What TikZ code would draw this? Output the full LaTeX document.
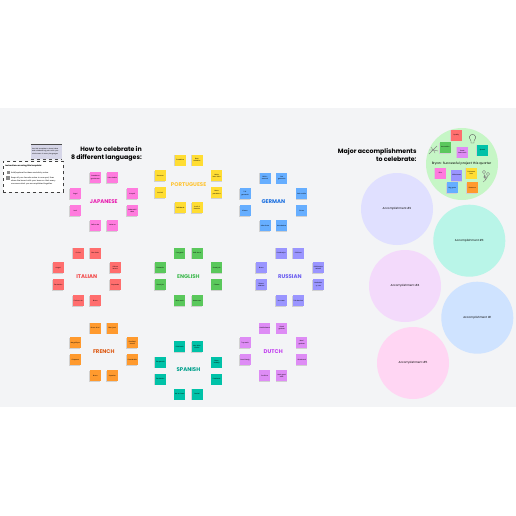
\documentclass[tikz,border=0pt]{standalone}
\usepackage{fontspec}
\setmainfont{Poppins}
\usetikzlibrary{shadows}
\definecolor{band}{HTML}{F3F4F6}
\definecolor{jpnote}{HTML}{FF7BDE}
\definecolor{jptext}{HTML}{E81EB0}
\definecolor{ptnote}{HTML}{FFDD33}
\definecolor{pttext}{HTML}{FFC433}
\definecolor{denote}{HTML}{66AEFF}
\definecolor{detext}{HTML}{1A6FE0}
\definecolor{itnote}{HTML}{FF6E6E}
\definecolor{ittext}{HTML}{F24848}
\definecolor{ennote}{HTML}{5AC85C}
\definecolor{entext}{HTML}{3FB950}
\definecolor{runote}{HTML}{9A95FF}
\definecolor{rutext}{HTML}{6A5CF0}
\definecolor{frnote}{HTML}{FF9A2E}
\definecolor{frtext}{HTML}{DD5A14}
\definecolor{esnote}{HTML}{00C2A8}
\definecolor{estext}{HTML}{00A08C}
\definecolor{nlnote}{HTML}{DE8CF5}
\definecolor{nltext}{HTML}{C23CF0}
\definecolor{sheet}{HTML}{D6D6E8}
\definecolor{lavender}{HTML}{E0E0FF}
\definecolor{mintfill}{HTML}{B9F5E8}
\definecolor{lilac}{HTML}{F3DAFB}
\definecolor{skyfill}{HTML}{CFE3FF}
\definecolor{pinkfill}{HTML}{FFD6F3}
\definecolor{greenfill}{HTML}{C6F6C6}
\begin{document}
\begin{tikzpicture}[x=1pt, y=-1pt,
    note/.style={rectangle,minimum width=11pt,minimum height=11pt,inner sep=0pt,text width=10pt,align=center,
        font=\fontsize{1.6}{2.2}\selectfont,general shadow={fill=black!18,shadow xshift=-0.7pt,shadow yshift=-0.7pt}},
    langname/.style={font=\fontsize{5.4}{6}\selectfont\bfseries},
    headline/.style={font=\fontsize{6.25}{8.6}\selectfont\bfseries,align=right,anchor=north east,inner sep=0pt},
    bubble/.style={circle,minimum size=72pt,inner sep=0pt,font=\fontsize{2.8}{4}\selectfont}]
    \fill[white] (0,0) rectangle (516,516);
    \useasboundingbox (0,0) rectangle (516,516);
    \fill[band] (0,108) rectangle (516,407);

    % notes on the left
    \node[rectangle,fill=sheet,minimum width=31pt,minimum height=15pt,inner sep=0pt,text width=29pt,align=left,font=\fontsize{1.6}{2.3}\selectfont] (sheetbox) at (46.5,151.5) {Use this template to share ideas and celebrate big wins with your whole team in many languages};
    \draw[black!70,thin] (sheetbox.north west)--(sheetbox.north east);
    \draw[black!70,thin,dashed] (sheetbox.south west)--(sheetbox.south east);
    \node[rectangle,draw=black!75,dashed,semithick,fill=white,minimum width=60pt,minimum height=31pt] (tipbox) at (33.3,176.8) {};
    \node[anchor=west,inner sep=0pt,font=\fontsize{2}{2.6}\selectfont\bfseries] (tiptitle) at (5,166) {Instructions on using this template:};
    \node[rectangle,fill=black!45,minimum size=3pt,inner sep=0pt] (tipicon1) at (8,172.5) {};
    \node[anchor=west,inner sep=0pt,font=\fontsize{1.9}{2.6}\selectfont] (tipline1) at (11,172.5) {Add/replace the ideas and sticky notes};
    \node[rectangle,fill=black!45,minimum size=3.5pt,inner sep=0pt] (tipicon2) at (8,178) {};
    \node[anchor=north west,inner sep=0pt,text width=48pt,align=left,font=\fontsize{1.9}{3.2}\selectfont] (tipline2) at (11,176.5) {Keep all your favorite notes in one spot, then share the board with your team so that everyone sees what you accomplished together};

    \node[headline] (howto) at (142,146) {How to celebrate in\\8 different languages:};
    \node[headline] (major) at (416.7,148) {Major accomplishments\\to celebrate:};

    % japanese
    \node[langname,text=jptext] (japanese) at (103.8,202) {JAPANESE};
    \node[note,fill=jpnote] (j1) at (95.3,177.7) {Omedetou gozaimasu};
    \node[note,fill=jpnote] (j2) at (112.3,177.7) {Yoku dekita};
    \node[note,fill=jpnote] (j3) at (132.3,193.7) {Kanpai};
    \node[note,fill=jpnote] (j4) at (132.3,210.7) {Subarashii desu};
    \node[note,fill=jpnote] (j5) at (112.3,225.3) {Yatta ne};
    \node[note,fill=jpnote] (j6) at (95.3,225.3) {Saikou da};
    \node[note,fill=jpnote] (j7) at (75.3,210.7) {Iwai};
    \node[note,fill=jpnote] (j8) at (75.3,193.7) {Sugoi};

    % portuguese
    \node[langname,text=pttext] (portuguese) at (188.6,184.3) {PORTUGUESE};
    \node[note,fill=ptnote] (p1) at (180.3,160) {Parabéns};
    \node[note,fill=ptnote] (p2) at (197,160) {Bom trabalho};
    \node[note,fill=ptnote] (p3) at (216.7,175.7) {Muito bem feito};
    \node[note,fill=ptnote] (p4) at (216.7,192.7) {Meus parabéns};
    \node[note,fill=ptnote] (p5) at (197,207.7) {Você é demais};
    \node[note,fill=ptnote] (p6) at (180.3,207.7) {Felicidade};
    \node[note,fill=ptnote] (p7) at (160.3,192.7) {Incrível};
    \node[note,fill=ptnote] (p8) at (160.3,175.7) {Sucesso};

    % german
    \node[langname,text=detext] (german) at (273.4,201.5) {GERMAN};
    \node[note,fill=denote] (g1) at (265,178) {Glück\-wunsch};
    \node[note,fill=denote] (g2) at (281.7,178) {Gut gemacht};
    \node[note,fill=denote] (g3) at (301.7,193.7) {Sehr schön};
    \node[note,fill=denote] (g4) at (301.7,210.7) {Prima};
    \node[note,fill=denote] (g5) at (281.7,225.7) {Wunderbar};
    \node[note,fill=denote] (g6) at (265,225.7) {Alles Gute};
    \node[note,fill=denote] (g7) at (245,210.7) {Klasse};
    \node[note,fill=denote] (g8) at (245,193.7) {Toll gemacht};

    % italian
    \node[langname,text=ittext] (italian) at (86.8,276.8) {ITALIAN};
    \node[note,fill=itnote] (i1) at (78.3,253) {Evviva};
    \node[note,fill=itnote] (i2) at (95.3,253) {Ben fatto};
    \node[note,fill=itnote] (i3) at (115.3,267.7) {Ottimo lavoro};
    \node[note,fill=itnote] (i4) at (115.3,284.7) {Stupendo};
    \node[note,fill=itnote] (i5) at (95.3,300.7) {Bravo};
    \node[note,fill=itnote] (i6) at (78.3,300.7) {Evviva a te};
    \node[note,fill=itnote] (i7) at (58.3,284.7) {Fantastico};
    \node[note,fill=itnote] (i8) at (58.3,267.7) {Auguri};

    % english
    \node[langname,text=entext] (english) at (188.4,276.8) {ENGLISH};
    \node[note,fill=ennote] (e1) at (179.7,253) {Congrats};
    \node[note,fill=ennote] (e2) at (197,253) {Well done};
    \node[note,fill=ennote] (e3) at (216.7,267.7) {Great job};
    \node[note,fill=ennote] (e4) at (216.7,284.7) {Cheers};
    \node[note,fill=ennote] (e5) at (197,300.7) {Awesome};
    \node[note,fill=ennote] (e6) at (179.7,300.7) {Nice work};
    \node[note,fill=ennote] (e7) at (160.3,284.7) {Good job};
    \node[note,fill=ennote] (e8) at (160.3,267.7) {Fantastic};

    % russian
    \node[langname,text=rutext] (russian) at (289.8,276.8) {RUSSIAN};
    \node[note,fill=runote] (r1) at (281.3,253) {Pozdravlyu};
    \node[note,fill=runote] (r2) at (298.3,253) {Otlichno};
    \node[note,fill=runote] (r3) at (318.3,267.7) {Otlichnaya rabota};
    \node[note,fill=runote] (r4) at (318.3,284.7) {Molodets vy vse};
    \node[note,fill=runote] (r5) at (298.3,300.7) {Tak derzhat};
    \node[note,fill=runote] (r6) at (281.3,300.7) {Ura vam};
    \node[note,fill=runote] (r7) at (261.3,284.7) {Slavno sdelano};
    \node[note,fill=runote] (r8) at (261.3,267.7) {Bravo};

    % french
    \node[langname,text=frtext] (french) at (103.8,351.8) {FRENCH};
    \node[note,fill=frnote] (f1) at (95.3,328) {Bravo à toi};
    \node[note,fill=frnote] (f2) at (112.3,328) {Bien joué};
    \node[note,fill=frnote] (f3) at (132.3,342.7) {Excellent travail};
    \node[note,fill=frnote] (f4) at (132.3,359.7) {Formidable};
    \node[note,fill=frnote] (f5) at (112.3,375.7) {Superbe};
    \node[note,fill=frnote] (f6) at (95.3,375.7) {Bravo};
    \node[note,fill=frnote] (f7) at (75.3,359.7) {Chapeau};
    \node[note,fill=frnote] (f8) at (75.3,342.7) {Magnifique};

    % spanish
    \node[langname,text=estext] (spanish) at (188.4,370) {SPANISH};
    \node[note,fill=esnote] (s1) at (179.7,346.7) {Felicitado};
    \node[note,fill=esnote] (s2) at (197,346.7) {Muy bien hecho};
    \node[note,fill=esnote] (s3) at (216.7,362) {Buen trabajo};
    \node[note,fill=esnote] (s4) at (216.7,379) {Excelente};
    \node[note,fill=esnote] (s5) at (197,394) {Genial};
    \node[note,fill=esnote] (s6) at (179.7,394) {Así se hace};
    \node[note,fill=esnote] (s7) at (160.3,379) {Fantástico};
    \node[note,fill=esnote] (s8) at (160.3,362) {Estupendo};

    % dutch
    \node[langname,text=nltext] (dutch) at (273.2,351.8) {DUTCH};
    \node[note,fill=nlnote] (d1) at (264.7,328) {Gefeliciteerd};
    \node[note,fill=nlnote] (d2) at (281.7,328) {Goed gedaan};
    \node[note,fill=nlnote] (d3) at (301.7,342.7) {Mooi gedaan};
    \node[note,fill=nlnote] (d4) at (301.7,359.7) {Uitstekend};
    \node[note,fill=nlnote] (d5) at (281.7,375.7) {Heel goed werk};
    \node[note,fill=nlnote] (d6) at (264.7,375.7) {Proficiat};
    \node[note,fill=nlnote] (d7) at (245,359.7) {Goed bezig};
    \node[note,fill=nlnote] (d8) at (245,342.7) {Top werk};

    % accomplishments
    \node[bubble,fill=lavender] (acc2) at (397,209) {Accomplishment \#2};
    \node[bubble,fill=mintfill] (acc3) at (469.3,240.7) {Accomplishment \#3};
    \node[bubble,fill=lilac] (acc4) at (405,286) {Accomplishment \#4};
    \node[bubble,fill=skyfill] (acc1) at (477.3,317.7) {Accomplishment \#1};
    \node[bubble,fill=pinkfill] (acc5) at (413,363) {Accomplishment \#5};

    \node[bubble,fill=greenfill] (win) at (462,164) {};
    \node[font=\fontsize{3.2}{3.4}\selectfont,inner sep=0pt] (wintitle) at (461.5,163.7) {Bryan: Successful project this quarter};
    \node[note,fill=itnote] (w1) at (456.3,135) {Quality};
    \node[note,fill=ennote] (w2) at (445.3,147.3) {Innovation};
    \node[note,fill=nlnote] (w3) at (462.3,152) {Great teamwork};
    \node[note,fill=esnote] (w4) at (482.3,150) {Speed};
    \node[note,fill=jpnote] (w5) at (440.3,173) {KPIs};
    \node[note,fill=runote] (w6) at (456.7,175.3) {Milestones};
    \node[note,fill=ptnote] (w7) at (471.3,173) {Customer love};
    \node[note,fill=denote] (w8) at (452.3,187.7) {Big goals};
    \node[note,fill=frnote] (w9) at (472.3,187.7) {Revenue};

    % doodles
    \draw[black!65,thin] (471,141)--(471,143)--(474,143)--(474,141) (471,141) .. controls (468,137) and (470,134.5) .. (472.5,134.5) .. controls (475,134.5) and (477,137) .. (474,141);
    \draw[black!50,thin] (429,154)--(433,150)--(437,146) (431,147)--(433,150)--(429,150) (435,153)--(433.5,150)--(438,151);
    \draw[black!50,thin] (484,172) circle (1.6pt) (488,174) circle (1.6pt) (485,177) circle (1.3pt) (484,174)--(485.5,180)--(483,182) (488,176)--(485.5,180);
\end{tikzpicture}
\end{document}
